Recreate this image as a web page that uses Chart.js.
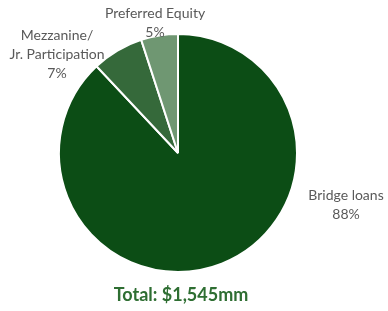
<!DOCTYPE html>
<html>
<head>
<meta charset="utf-8">
<script src="https://cdn.jsdelivr.net/npm/chart.js@4/dist/chart.umd.min.js"></script>
<style>
  html, body { margin: 0; padding: 0; background: #fff; }
  #wrap { position: relative; width: 388px; height: 311px; }
</style>
</head>
<body>
<div id="wrap"><canvas id="c" width="388" height="311"></canvas></div>
<script>
// data
const categories = ['Bridge loans', 'Mezzanine/\nJr. Participation', 'Preferred Equity'];
const shares = [88, 7, 5];
const sliceColors = ['#0c4d15', '#35693a', '#6f9772'];
const totalLabel = 'Total: $1,545mm';

// label placement, relative to pie centre (Excel "best fit" look)
const labelPlacement = [
  { dx: 168, dy: 52 },
  { dx: -121, dy: -99 },
  { dx: -23, dy: -130 }
];

const pieLabels = {
  id: 'pieLabels',
  afterDraw(chart) {
    const ctx = chart.ctx;
    const meta = chart.getDatasetMeta(0);
    const first = meta.data[0];
    if (!first) return;
    const cx = first.x, cy = first.y;
    ctx.save();
    ctx.font = '14px Lato, "Open Sans", sans-serif';
    ctx.fillStyle = '#595959';
    ctx.textAlign = 'center';
    ctx.textBaseline = 'middle';
    meta.data.forEach((arc, i) => {
      const lines = categories[i].split('\n').concat([shares[i] + '%']);
      const p = labelPlacement[i];
      const lh = 19;
      const top = cy + p.dy - (lines.length - 1) * lh / 2;
      lines.forEach((ln, k) => ctx.fillText(ln, cx + p.dx, top + k * lh));
    });
    // total under the pie
    ctx.font = 'bold 18px Lato, "Open Sans", sans-serif';
    ctx.fillStyle = '#2e6e32';
    ctx.fillText(totalLabel, cx + 3, chart.chartArea.bottom + 22);
    ctx.restore();
  }
};

new Chart(document.getElementById('c'), {
  type: 'pie',
  data: {
    labels: categories,
    datasets: [{
      data: shares,
      backgroundColor: sliceColors,
      borderColor: '#ffffff',
      borderWidth: 2
    }]
  },
  options: {
    responsive: false,
    animation: false,
    layout: { padding: { left: 58, right: 90, top: 33, bottom: 38 } },
    plugins: {
      legend: { display: false },
      tooltip: { enabled: false }
    }
  },
  plugins: [pieLabels]
});
</script>
</body>
</html>
